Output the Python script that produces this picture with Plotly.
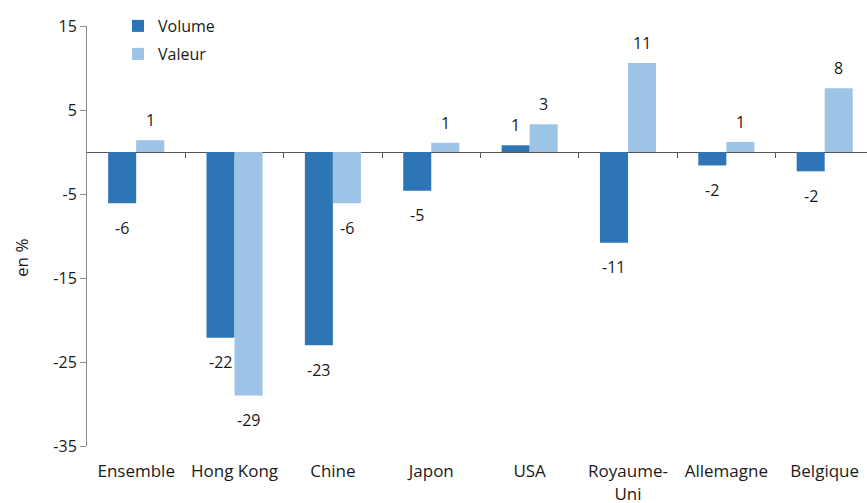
import plotly.graph_objects as go

categories = ["Ensemble", "Hong Kong", "Chine", "Japon", "USA", "Royaume-<br>Uni", "Allemagne", "Belgique"]
volume = [-6.1, -22.1, -23.0, -4.6, 0.8, -10.8, -1.6, -2.3]
valeur = [1.4, -29.0, -6.1, 1.1, 3.3, 10.6, 1.2, 7.6]
volume_labels = ["-6", "-22", "-23", "-5", "1", "-11", "-2", "-2"]
valeur_labels = ["1", "-29", "-6", "1", "3", "11", "1", "8"]
y_ticks = [-35, -25, -15, -5, 5, 15]
y_ticktext = ["-35", "-25", "-15", "-5", "5", "15"]

C_VOL = "#2E75B6"
C_VAL = "#9DC3E6"
FONT = "Open Sans"
TXT = "#1a1a1a"

W, H = 867, 503
ML, MR, MT, MB = 87, 0, 26, 57
PW, PH = W - ML - MR, H - MT - MB


def px_x(p):
    return (p - ML) / PW


def px_y(p):
    return (H - MB - p) / PH


fig = go.Figure()
fig.add_trace(go.Bar(x=categories, y=volume, name="Volume", marker_color=C_VOL,
                     marker_line_width=0, legend="legend", showlegend=True))
fig.add_trace(go.Bar(x=categories, y=valeur, name="Valeur", marker_color=C_VAL,
                     marker_line_width=0, legend="legend2", showlegend=True))
# helper axis for the category-boundary ticks on the zero line
fig.add_trace(go.Scatter(x=[], y=[], xaxis="x2", showlegend=False, hoverinfo="skip"))

annotations = []
for series, labels, shift in ((volume, volume_labels, -14), (valeur, valeur_labels, 14)):
    for c, v, t in zip(categories, series, labels):
        annotations.append(dict(x=c, y=v, text=t, showarrow=False, xref="x", yref="y",
                                xshift=shift, yshift=20 if v >= 0 else -24.5,
                                font=dict(family=FONT, size=16, color=TXT)))
annotations.append(dict(x=px_x(21), y=px_y(258), xref="paper", yref="paper", text="en %",
                        showarrow=False, textangle=-90, xanchor="center", yanchor="middle",
                        font=dict(family=FONT, size=17, color=TXT)))

fig.update_layout(
    width=W, height=H,
    margin=dict(l=ML, r=MR, t=MT, b=MB),
    paper_bgcolor="white", plot_bgcolor="white",
    barmode="group", bargap=0.43, bargroupgap=0,
    showlegend=True,
    font=dict(family=FONT, size=16, color=TXT),
    xaxis=dict(type="category", range=[-0.5, 7.43], showgrid=False, showline=False, zeroline=False,
               ticks="outside", ticklen=10, tickcolor="rgba(0,0,0,0)", tickangle=0,
               automargin=False,
               tickfont=dict(family=FONT, size=17, color=TXT)),
    xaxis2=dict(overlaying="x", anchor="free", position=35 / 50, type="linear",
                range=[-0.5, 7.43], tickvals=[0.5, 1.5, 2.5, 3.5, 4.5, 5.5, 6.5],
                ticks="outside", ticklen=5, tickcolor="#555", tickwidth=1, automargin=False,
                showticklabels=False, showline=False, showgrid=False, zeroline=False),
    yaxis=dict(range=[-35, 15], tickvals=y_ticks, ticktext=y_ticktext, showgrid=False,
               automargin=False,
               showline=True, linecolor="#8c8c8c", linewidth=1,
               ticks="outside", ticklen=6, tickcolor="#8c8c8c",
               zeroline=True, zerolinecolor="#555", zerolinewidth=1,
               tickfont=dict(family=FONT, size=16, color=TXT)),
    legend=dict(x=px_x(118), y=px_y(26), xanchor="left", yanchor="middle",
                bgcolor="rgba(0,0,0,0)", font=dict(family=FONT, size=16, color=TXT)),
    legend2=dict(x=px_x(118), y=px_y(54), xanchor="left", yanchor="middle",
                 bgcolor="rgba(0,0,0,0)", font=dict(family=FONT, size=16, color=TXT)),
    annotations=annotations,
)

fig.write_html("out.html")
